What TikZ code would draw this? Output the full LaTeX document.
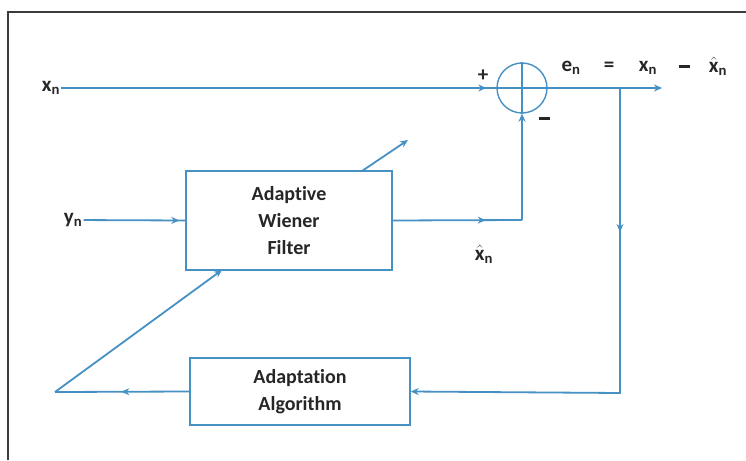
\documentclass[tikz,border=0pt]{standalone}
\usepackage{fontspec}
\setmainfont[Ligatures=NoCommon]{Carlito}
\usetikzlibrary{positioning,arrows.meta,decorations.markings}
\definecolor{wireblue}{RGB}{70,145,195}
\definecolor{framegray}{RGB}{60,60,60}
\tikzset{
  wire/.style={draw=wireblue,line width=1.8pt},
  tipat/.style={postaction={decorate},decoration={markings,
      mark=at position #1 with {\arrow[wireblue]{Stealth[length=8pt,width=7pt]}}}},
  endtip/.style={-{Stealth[length=8pt,width=7pt]}},
  block/.style={draw=wireblue,line width=1.4pt,align=center,
      font=\fontsize{20}{27}\selectfont\bfseries,text=black!85},
  lbl/.style={font=\fontsize{21}{24}\selectfont\bfseries,text=black!85},
}
\newcommand{\sig}[1]{#1\textsubscript{n}}
\newcommand{\sighat}[1]{$\hat{\mbox{#1}}$\textsubscript{n}}
\newcommand{\minusbar}{\rule[5pt]{11pt}{2.2pt}}

\begin{document}
\begin{tikzpicture}[x=1pt,y=-1pt,inner sep=0.4mm]
\useasboundingbox (0,0) rectangle (746,460);
\draw[framegray,line width=1.5pt] (8,460) -- (8,12) -- (746,12);

\coordinate (fc) at (522,220);
\coordinate (eout) at (662,88);
\coordinate (br) at (620,88);
\coordinate (brd) at (620,393);
\coordinate (lc) at (55,392);
\coordinate (fin) at (222,270);
\coordinate (tune0) at (362,171);
\coordinate (tune1) at (408,140);

% blocks
\node[block,minimum width=206pt,minimum height=99pt] (filter) at (289,220.5) {Adaptive\\Wiener\\Filter};
\node[block,minimum width=220pt,minimum height=67pt] (adapt) at (300,391.5) {Adaptation\\Algorithm};
\node[draw=wireblue,line width=1.4pt,circle,minimum size=50pt,inner sep=0pt] (sum) at (522,88) {};
\draw[wire] (sum.north) -- (sum.south);
\draw[wire] (sum.west) -- (sum.east);

% signals
\node[lbl] (xn) at (51,88) {\sig{x}};
\node[lbl] (yn) at (73,220) {\sig{y}};
\node[lbl] (xh) at (484,254) {\sighat{x}};
\node[lbl] (plus) at (483,76) {+};
\node[lbl] (minus) at (544,121) {\minusbar};

\node[lbl] (en) at (571,68) {\sig{e}};
\node[lbl] (eq) at (609,67) {=};
\node[lbl] (xn2) at (648,68) {\sig{x}};
\node[lbl] (mn2) at (684,69) {\minusbar};
\node[lbl] (xh2) at (718,66) {\sighat{x}};

% connectors
\draw[wire,tipat=-10pt] (xn) -- (sum.west);
\draw[wire,endtip] (sum.east) -- (eout);
\draw[wire,tipat=144pt,endtip] (br) -- (brd) -- (adapt.east);
\draw[wire,tipat=-6pt] (yn) -- (filter.west);
\draw[wire,tipat=93pt] (filter.east) -- (fc);
\draw[wire,endtip] (fc) -- (sum.south);
\draw[wire,tipat=68pt] (adapt.west) -- (lc);
\draw[wire,endtip] (lc) -- (fin);
\draw[wire,endtip] (tune0) -- (tune1);
\end{tikzpicture}
\end{document}
